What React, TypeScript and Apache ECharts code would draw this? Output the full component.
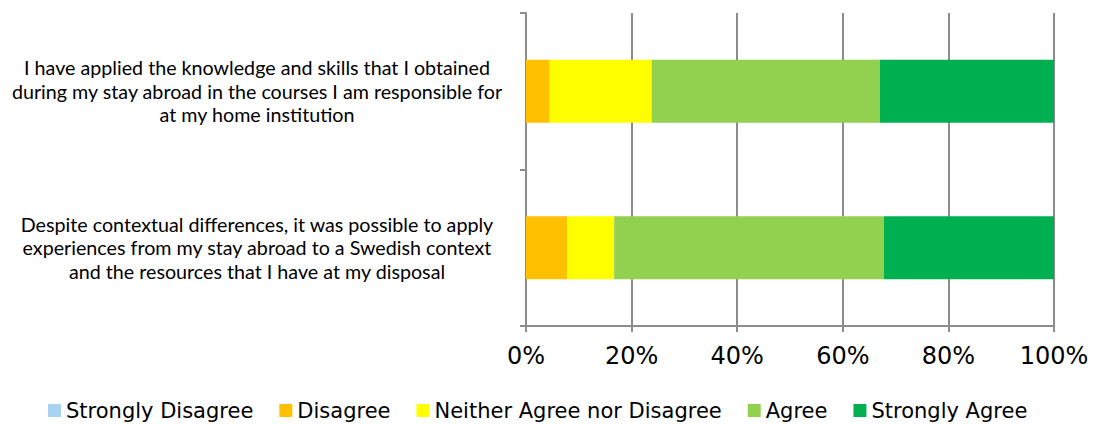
import React, { useEffect, useRef } from "react";
import * as echarts from "echarts";

const categories = [
  "I have applied the knowledge and skills that I obtained\nduring my stay abroad in the courses I am responsible for\nat my home institution",
  "Despite contextual differences, it was possible to apply\nexperiences from my stay abroad to a Swedish context\nand the resources that I have at my disposal",
];

const seriesNames = [
  "Strongly Disagree",
  "Disagree",
  "Neither Agree nor Disagree",
  "Agree",
  "Strongly Agree",
];

const stronglyDisagree = [0, 0];
const disagree = [4.5, 7.8];
const neither = [19.3, 8.9];
const agree = [43.2, 51.1];
const stronglyAgree = [33.0, 32.2];

const colors = ["#A9D1F2", "#FFC000", "#FFFF00", "#92D050", "#00B050"];

const xTicks = [0, 20, 40, 60, 80, 100];

export default function App() {
  const ref = useRef<HTMLDivElement>(null);

  useEffect(() => {
    if (!ref.current) return;
    const chart = echarts.init(ref.current, undefined, { renderer: "svg" });
    const values = [stronglyDisagree, disagree, neither, agree, stronglyAgree];
    chart.setOption({
      animation: false,
      backgroundColor: "#ffffff",
      grid: { left: 526, right: 40, top: 13, bottom: 98, containLabel: false },
      legend: {
        top: 400,
        left: 48,
        padding: 0,
        itemWidth: 13,
        itemHeight: 13,
        itemGap: 26,
        icon: "rect",
        textStyle: { fontFamily: "DejaVu Sans", fontSize: 21, color: "#000" },
        data: seriesNames,
      },
      xAxis: {
        type: "value",
        min: xTicks[0],
        max: xTicks[xTicks.length - 1],
        interval: 20,
        axisLine: { show: true, lineStyle: { color: "#8C8C8C", width: 2 } },
        axisTick: { show: true, length: 6, lineStyle: { color: "#8C8C8C", width: 2 } },
        splitLine: { show: true, lineStyle: { color: "#8C8C8C", width: 2 } },
        axisLabel: {
          formatter: "{value}%",
          fontFamily: "DejaVu Sans",
          fontSize: 24,
          color: "#000",
          margin: 18,
        },
      },
      yAxis: {
        type: "category",
        inverse: true,
        data: categories,
        axisLine: { show: true, lineStyle: { color: "#8C8C8C", width: 2 } },
        axisTick: { show: true, length: 6, lineStyle: { color: "#8C8C8C", width: 2 } },
        axisLabel: {
          align: "center",
          margin: 269,
          fontFamily: "Lato",
          fontSize: 19.7,
          lineHeight: 23.5,
          color: "#000",
        },
      },
      series: seriesNames.map((name, i) => ({
        name,
        type: "bar",
        stack: "total",
        barWidth: 63,
        itemStyle: { color: colors[i] },
        data: values[i],
      })),
    });
    return () => chart.dispose();
  }, []);

  return (
    <div
      ref={ref}
      style={{ position: "fixed", left: 0, top: 0, width: 1094, height: 424 }}
    />
  );
}
